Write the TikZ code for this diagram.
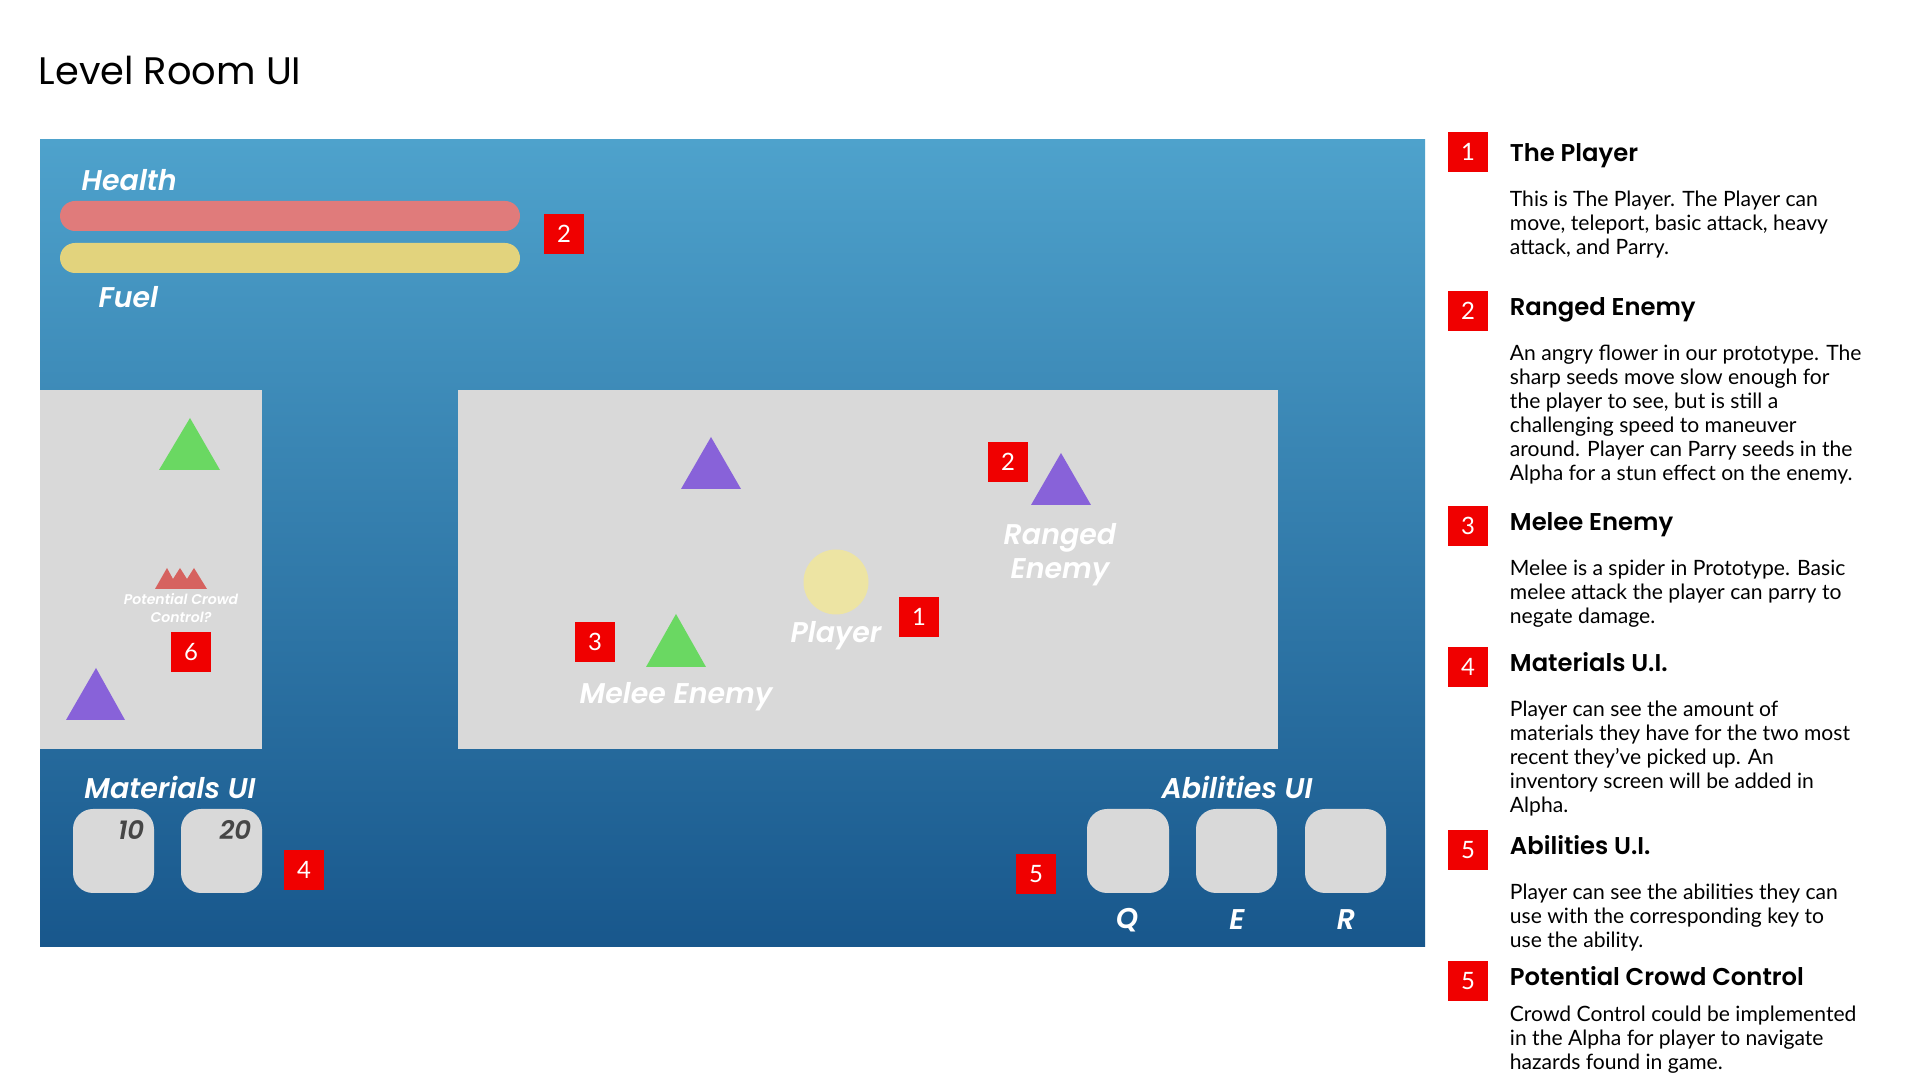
\documentclass[tikz,border=0pt]{standalone}
\usepackage{fontspec}
\setmainfont{Lato}
\newfontfamily\techfont{Poppins}[BoldFont={* SemiBold}, BoldItalicFont={* SemiBold Italic}]
\usetikzlibrary{positioning}
\definecolor{uitop}{RGB}{78,162,204}
\definecolor{uibot}{RGB}{24,87,140}
\definecolor{roomgray}{RGB}{217,217,217}
\definecolor{markred}{RGB}{240,0,0}
\definecolor{hpred}{RGB}{224,123,123}
\definecolor{fuelyel}{RGB}{226,211,125}
\definecolor{meleegreen}{RGB}{106,216,98}
\definecolor{rangedpurple}{RGB}{136,98,217}
\definecolor{playeryel}{RGB}{237,228,163}
\definecolor{spikered}{RGB}{214,98,95}
\definecolor{numgray}{RGB}{70,70,70}
\tikzset{
  tagbox/.style={rectangle, fill=markred, text=white, minimum size=4mm, inner sep=0pt,
    font=\fontsize{6.8}{8}\selectfont},
  uilabel/.style={inner sep=0pt, text=white, font=\techfont\bfseries\itshape\fontsize{8.1}{9.7}\selectfont},
  slotbox/.style={fill=roomgray, rounded corners=2mm},
  infohead/.style={inner sep=0pt, anchor=west, text height=1.7mm, text depth=0pt, yshift=0.4mm,
    font=\techfont\bfseries\fontsize{6.9}{8}\selectfont},
  infotext/.style={inner sep=0pt, align=left, font=\fontsize{6}{6.83}\selectfont},
}
\begin{document}
\begin{tikzpicture}[x=0.01cm,y=-0.01cm]
    \useasboundingbox (0,0) rectangle (1920,1080);
    \fill[white] (0,0) rectangle (1920,1080);
    \node[anchor=west, inner sep=0pt, font=\techfont\fontsize{10.9}{12}\selectfont](title) at (38,71) {Level Room UI};
    % game screen
    \shade[top color=uitop, bottom color=uibot] (40,140) rectangle (1425,947);
    \node[uilabel, anchor=west](health) at (81,180) {Health};
    \fill[hpred, rounded corners=1.5mm] (60,201) rectangle (520,231);
    \fill[fuelyel, rounded corners=1.5mm] (60,243) rectangle (520,273);
    \node[uilabel, anchor=west](fuel) at (98,297) {Fuel};
    \node[tagbox](t2a) at (564,234) {2};
    % side room
    \fill[roomgray] (40,390) rectangle (262,749);
    \fill[meleegreen] (159,470) -- (190,418) -- (220,470) -- cycle;
    \fill[rangedpurple] (66,720) -- (96,668) -- (125,720) -- cycle;
    \fill[spikered] (155,589) -- (167,568) -- (173,579) -- (180,568) -- (187,579) -- (194,568) -- (207,589) -- cycle;
    \node[uilabel, align=center, font=\techfont\bfseries\itshape\fontsize{4}{4.9}\selectfont](crowd) at (181,608) {Potential Crowd\\Control?};
    \node[tagbox](t6) at (191,652) {6};
    % main room
    \fill[roomgray] (458,390) rectangle (1278,749);
    \fill[rangedpurple] (681,489) -- (711,437) -- (741,489) -- cycle;
    \fill[rangedpurple] (1031,505) -- (1061,453) -- (1091,505) -- cycle;
    \node[tagbox](t2b) at (1008,462) {2};
    \node[uilabel, align=center](ranged) at (1060,555) {Ranged\\Enemy};
    \fill[playeryel] (836,582) circle (32.5);
    \node[uilabel](player) at (836,636) {Player};
    \node[tagbox](t1) at (919,617) {1};
    \fill[meleegreen] (646,667) -- (676,614) -- (706,667) -- cycle;
    \node[tagbox](t3) at (595,642) {3};
    \node[uilabel](melee) at (676,697) {Melee Enemy};
    % materials and abilities
    \node[uilabel](mats) at (170,787) {Materials UI};
    \fill[slotbox] (73,809) rectangle (154,893);
    \fill[slotbox] (181,809) rectangle (262,893);
    \node[anchor=east, inner sep=0pt, text=numgray, font=\techfont\bfseries\itshape\fontsize{7.4}{8}\selectfont](m10) at (145,830) {10};
    \node[anchor=east, inner sep=0pt, text=numgray, font=\techfont\bfseries\itshape\fontsize{7.4}{8}\selectfont](m20) at (252,830) {20};
    \node[tagbox](t4) at (304,870) {4};
    \node[uilabel](abil) at (1237,787) {Abilities UI};
    \fill[slotbox] (1087,809) rectangle (1169,893);
    \fill[slotbox] (1196,809) rectangle (1277,893);
    \fill[slotbox] (1305,809) rectangle (1386,893);
    \node[tagbox](t5) at (1036,874) {5};
    \node[uilabel](keyq) at (1127,920) {Q};
    \node[uilabel](keye) at (1237,920) {E};
    \node[uilabel](keyr) at (1346,920) {R};
    % legend
    \node[tagbox](r1) at (1468,152) {1};
    \node[infohead, right=2.05mm of r1, yshift=-0.5mm](h1) {The Player};
    \node[infotext, below=2.8mm of h1.south west, anchor=north west](d1) {This is The Player. The Player can\\move, teleport, basic attack, heavy\\attack, and Parry.};
    \node[tagbox](r2) at (1468,311) {2};
    \node[infohead, right=2.05mm of r2](h2) {Ranged Enemy};
    \node[infotext, below=2.8mm of h2.south west, anchor=north west](d2) {An angry flower in our prototype. The\\sharp seeds move slow enough for\\the player to see, but is still a\\challenging speed to maneuver\\around. Player can Parry seeds in the\\Alpha for a stun effect on the enemy.};
    \node[tagbox](r3) at (1468,526) {3};
    \node[infohead, right=2.05mm of r3](h3) {Melee Enemy};
    \node[infotext, below=2.8mm of h3.south west, anchor=north west](d3) {Melee is a spider in Prototype. Basic\\melee attack the player can parry to\\negate damage.};
    \node[tagbox](r4) at (1468,667) {4};
    \node[infohead, right=2.05mm of r4](h4) {Materials U.I.};
    \node[infotext, below=2.8mm of h4.south west, anchor=north west](d4) {Player can see the amount of\\materials they have for the two most\\recent they’ve picked up. An\\inventory screen will be added in\\Alpha.};
    \node[tagbox](r5) at (1468,850) {5};
    \node[infohead, right=2.05mm of r5](h5) {Abilities U.I.};
    \node[infotext, below=2.8mm of h5.south west, anchor=north west](d5) {Player can see the abilities they can\\use with the corresponding key to\\use the ability.};
    \node[tagbox](r6) at (1468,981) {5};
    \node[infohead, right=2.05mm of r6](h6) {Potential Crowd Control};
    \node[infotext, below=1.9mm of h6.south west, anchor=north west](d6) {Crowd Control could be implemented\\in the Alpha for player to navigate\\hazards found in game.};
\end{tikzpicture}
\end{document}
